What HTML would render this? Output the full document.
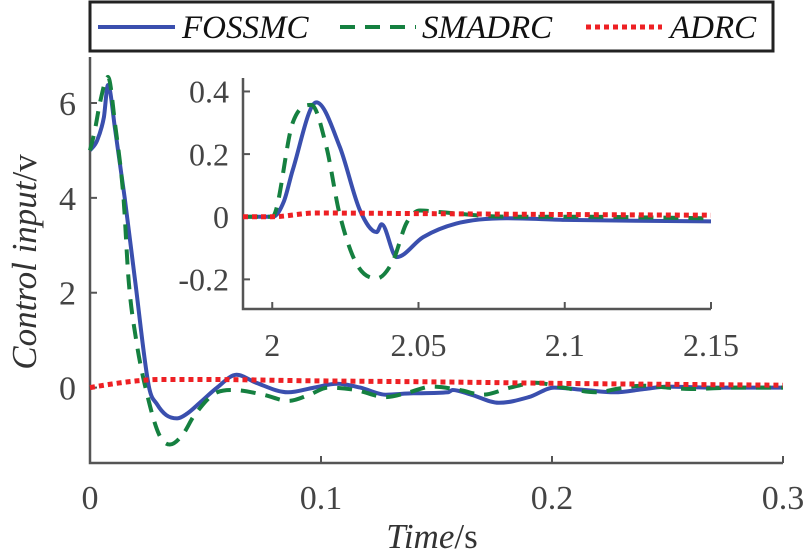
<!DOCTYPE html>
<html><head><meta charset="utf-8"><style>
body{margin:0;background:#fff}
svg{display:block}
text{font-family:"Liberation Serif","DejaVu Serif","Times New Roman",serif}
</style></head><body>
<svg id="chart" width="806" height="554" viewBox="0 0 806 554" xmlns="http://www.w3.org/2000/svg">
<g id="main"></g>
<g id="inset"></g>
<text x="0" y="0" transform="translate(36,262) rotate(-90)" text-anchor="middle" font-size="35" font-style="italic" fill="#333">Control input<tspan font-style="normal">/v</tspan></text>
<text x="432" y="548" text-anchor="middle" font-size="35" font-style="italic" fill="#333">Time<tspan font-style="normal">/s</tspan></text>
<g>
<rect x="90" y="2" width="683" height="49" fill="#fff" stroke="#222" stroke-width="3"/>
<line x1="98" y1="27" x2="175" y2="27" stroke="#3a4fae" stroke-width="4"/>
<text x="182" y="38" font-size="33" font-style="italic" fill="#111">FOSSMC</text>
<line x1="340" y1="27" x2="416" y2="27" stroke="#158040" stroke-width="4" stroke-dasharray="15,10"/>
<text x="422" y="38" font-size="33" font-style="italic" fill="#111">SMADRC</text>
<line x1="586" y1="27" x2="662" y2="27" stroke="#ee2024" stroke-width="5" stroke-dasharray="5,4"/>
<text x="670" y="38" font-size="33" font-style="italic" fill="#111">ADRC</text>
</g>
</svg>
<script>
// Main chart data
const mainFossT=[0,0.003,0.006,0.0078,0.011,0.015,0.0195,0.0256,0.029,0.033,0.0377,0.042,0.048,0.055,0.0634,0.072,0.0857,0.097,0.107,0.117,0.128,0.14,0.155,0.157,0.165,0.177,0.19,0.201,0.214,0.227,0.24,0.25,0.27,0.3];
const mainFossV=[5,5.2,5.7,6.38,5.4,4.0,2.27,0,-0.35,-0.58,-0.65,-0.55,-0.3,0.0,0.27,0.1,-0.1,0.0,0.08,0.0,-0.15,-0.12,-0.1,-0.05,-0.15,-0.32,-0.2,0,-0.05,-0.1,-0.03,0.02,0,0];
const mainSmaT=[0,0.002,0.0043,0.0078,0.011,0.0145,0.0167,0.02,0.025,0.03,0.0346,0.04,0.045,0.055,0.062,0.075,0.086,0.095,0.103,0.115,0.128,0.138,0.148,0.16,0.17,0.182,0.193,0.205,0.219,0.229,0.239,0.25,0.26,0.28,0.3];
const mainSmaV=[5,5.4,6,6.55,5.5,4,2.27,1.0,-0.2,-1.0,-1.2,-1.0,-0.6,-0.1,-0.05,-0.15,-0.28,-0.15,0,-0.05,-0.2,-0.1,0.02,-0.05,-0.15,0,0.1,0,-0.1,-0.02,0.04,0,-0.03,0,0];
const mainAdrcT=[0,0.01,0.02,0.03,0.05,0.1,0.15,0.2,0.3];
const mainAdrcV=[0,0.08,0.14,0.17,0.17,0.14,0.12,0.09,0.05];
const mainXTicks=[0,0.1,0.2,0.3];
const mainXLabels=["0","0.1","0.2","0.3"];
const mainYTicks=[0,2,4,6];
const mainYLabels=["0","2","4","6"];
// Inset data
const insFossT=[1.99,2.0003,2.004,2.007,2.0151,2.0231,2.030,2.0357,2.0374,2.0425,2.0516,2.0629,2.08,2.1,2.15];
const insFossV=[0,0,0.05,0.149,0.365,0.223,0.02,-0.049,-0.024,-0.129,-0.065,-0.022,-0.005,-0.01,-0.015];
const insSmaT=[1.99,2.0,2.007,2.0134,2.0185,2.023,2.0288,2.0357,2.0413,2.0459,2.0505,2.057,2.08,2.1,2.15];
const insSmaV=[0,0,0.30,0.357,0.223,0.01,-0.15,-0.197,-0.14,-0.02,0.02,0.015,0,0,-0.005];
const insAdrcT=[1.99,2.0,2.015,2.05,2.1,2.15];
const insAdrcV=[0,0,0.012,0.01,0.007,0.005];
const insXTicks=[2,2.05,2.1,2.15];
const insXLabels=["2","2.05","2.1","2.15"];
const insYTicks=[-0.2,0,0.2,0.4];
const insYLabels=["-0.2","0","0.2","0.4"];

const NS="http://www.w3.org/2000/svg";
function mk(parent,tag,attrs){const e=document.createElementNS(NS,tag);for(const k in attrs)e.setAttribute(k,attrs[k]);parent.appendChild(e);return e;}
function pathD(T,V,sx,sy){
  const x=T.map(sx),y=V.map(sy),n=x.length;
  const d=[],m=new Array(n);
  for(let i=0;i<n-1;i++)d.push((y[i+1]-y[i])/(x[i+1]-x[i]));
  m[0]=d[0];m[n-1]=d[n-2];
  for(let i=1;i<n-1;i++)m[i]=(d[i-1]*d[i]<=0)?0:(d[i-1]+d[i])/2;
  for(let i=0;i<n-1;i++){
    if(d[i]===0){m[i]=0;m[i+1]=0;continue;}
    const a=m[i]/d[i],b=m[i+1]/d[i],s=a*a+b*b;
    if(s>9){const t=3/Math.sqrt(s);m[i]=t*a*d[i];m[i+1]=t*b*d[i];}
  }
  let p="M"+x[0].toFixed(1)+","+y[0].toFixed(1);
  for(let i=0;i<n-1;i++){
    const h=(x[i+1]-x[i])/3;
    p+=" C"+(x[i]+h).toFixed(1)+","+(y[i]+m[i]*h).toFixed(1)+" "+(x[i+1]-h).toFixed(1)+","+(y[i+1]-m[i+1]*h).toFixed(1)+" "+x[i+1].toFixed(1)+","+y[i+1].toFixed(1);
  }
  return p;
}
function axes(g,cfg){
  const sx=t=>cfg.x0+(t-cfg.xmin)/(cfg.xmax-cfg.xmin)*(cfg.x1-cfg.x0);
  const sy=v=>cfg.y1-(v-cfg.ymin)/(cfg.ymax-cfg.ymin)*(cfg.y1-cfg.y0);
  const ax=mk(g,"path",{d:`M${cfg.x0},${cfg.y0}V${cfg.y1}H${cfg.x1}`,fill:"none",stroke:"#555","stroke-width":2.5});
  
  
  cfg.xt.forEach((t,i)=>{
    mk(g,"line",{x1:sx(t),x2:sx(t),y1:cfg.y1,y2:cfg.y1-7,stroke:"#555","stroke-width":2});
    const tx=mk(g,"text",{x:sx(t),y:cfg.y1+cfg.xlOff,"text-anchor":"middle","font-size":cfg.fs,fill:"#444"});
    tx.textContent=cfg.xl[i];
    
    
  });
  cfg.yt.forEach((v,i)=>{
    mk(g,"line",{x1:cfg.x0,x2:cfg.x0+7,y1:sy(v),y2:sy(v),stroke:"#555","stroke-width":2});
    const tx=mk(g,"text",{x:cfg.x0-cfg.ylOff,y:sy(v)+cfg.fs*0.35,"text-anchor":"end","font-size":cfg.fs,fill:"#444"});
    tx.textContent=cfg.yl[i];
    
    
  });
  const series=[
    [cfg.foss,"#3a4fae",4,"","fossmc-line"],
    [cfg.sma,"#158040",4,"15,10","smadrc-line"],
    [cfg.adrc,"#ee2024",5,"5,4","adrc-line"]];
  series.forEach(s=>{
    const p=mk(g,"path",{d:pathD(s[0][0],s[0][1],sx,sy),fill:"none",stroke:s[1],"stroke-width":s[2],"stroke-linejoin":"round"});
    if(s[3])p.setAttribute("stroke-dasharray",s[3]);
    
    
  });
}
axes(document.getElementById("main"),{name:"main",x0:90,x1:783,y0:57,y1:463,xmin:0,xmax:0.3,ymin:-1.59,ymax:6.97,
  xt:mainXTicks,xl:mainXLabels,yt:mainYTicks,yl:mainYLabels,fs:34,xlOff:46,ylOff:14,
  foss:[mainFossT,mainFossV],sma:[mainSmaT,mainSmaV],adrc:[mainAdrcT,mainAdrcV]});
const ig=document.getElementById("inset");
mk(ig,"rect",{x:236,y:72,width:480,height:244,fill:"#fff"});
axes(ig,{name:"inset",x0:243,x1:711,y0:78,y1:309,xmin:1.99,xmax:2.15,ymin:-0.2946,ymax:0.443,
  xt:insXTicks,xl:insXLabels,yt:insYTicks,yl:insYLabels,fs:32,xlOff:47,ylOff:14,
  foss:[insFossT,insFossV],sma:[insSmaT,insSmaV],adrc:[insAdrcT,insAdrcV]});
</script>
</body></html>
